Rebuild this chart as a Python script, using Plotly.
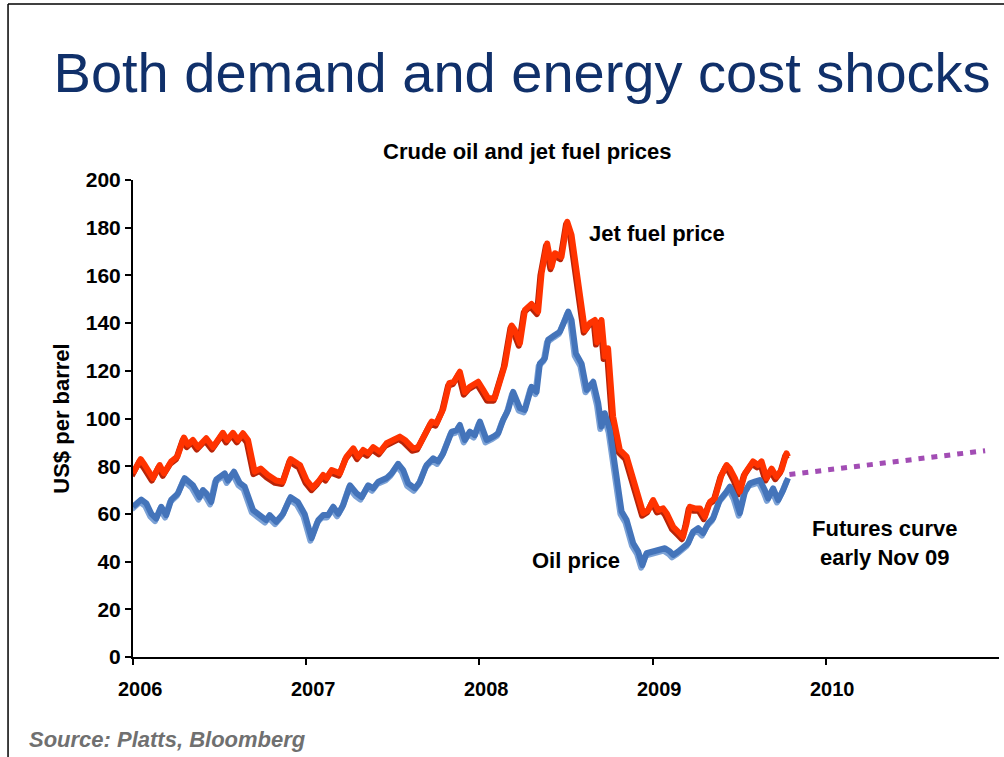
import plotly.graph_objects as go

# weekly-ish prices, time as decimal years
jet_t = [2006.000, 2006.044, 2006.068, 2006.115, 2006.154, 2006.179, 2006.221, 2006.256, 2006.294, 2006.317,
         2006.346, 2006.375, 2006.423, 2006.462, 2006.519, 2006.544, 2006.577, 2006.606, 2006.635, 2006.664,
         2006.702, 2006.737, 2006.779, 2006.827, 2006.866, 2006.910, 2006.952, 2006.964, 2007.003, 2007.037,
         2007.070, 2007.098, 2007.118, 2007.147, 2007.195, 2007.233, 2007.272, 2007.300, 2007.329, 2007.358,
         2007.387, 2007.426, 2007.464, 2007.512, 2007.541, 2007.570, 2007.618, 2007.647, 2007.695, 2007.724,
         2007.753, 2007.791, 2007.826, 2007.853, 2007.887, 2007.916, 2007.945, 2007.993, 2008.022, 2008.051,
         2008.089, 2008.118, 2008.147, 2008.186, 2008.205, 2008.234, 2008.263, 2008.301, 2008.339, 2008.359,
         2008.391, 2008.417, 2008.436, 2008.474, 2008.507, 2008.532, 2008.580, 2008.609, 2008.638, 2008.667,
         2008.680, 2008.705, 2008.724, 2008.743, 2008.772, 2008.811, 2008.850, 2008.898, 2008.946, 2008.975,
         2009.003, 2009.032, 2009.061, 2009.081, 2009.119, 2009.148, 2009.176, 2009.196, 2009.215, 2009.244,
         2009.273, 2009.302, 2009.331, 2009.359, 2009.398, 2009.427, 2009.446, 2009.475, 2009.504, 2009.533,
         2009.562, 2009.580, 2009.609, 2009.629, 2009.658, 2009.687, 2009.715, 2009.744, 2009.773, 2009.782]
jet_price = [77, 83, 80.5, 75, 80.5, 77, 82, 84, 92, 89,
             91, 88, 91.7, 88, 94, 91, 94, 91, 93.8, 91,
             77.7, 79, 76.3, 74, 73.5, 83, 81, 80.5, 74, 71,
             73.5, 76.3, 75, 78.4, 77, 84, 87.5, 84, 86.8, 85.4,
             88, 86, 89.6, 91.7, 92.4, 91, 87.5, 88, 95, 98.7,
             98, 104, 114.8, 115.4, 119.6, 111, 113.3, 115.4, 112, 108.5,
             108.5, 116, 122.4, 139, 137, 131.5, 145.5, 148, 144.8, 160.9,
             173.4, 163.6, 169.3, 167.8, 182.5, 177, 154, 137, 140, 141.3,
             132, 141.3, 126, 129.4, 100.8, 86.8, 84, 72.8, 60.3, 61.6,
             65.8, 61.6, 62.3, 60.3, 54.6, 52.5, 50.4, 56, 63, 62.3,
             62.3, 58.8, 65, 66.5, 76.3, 80.5, 79, 75, 69.3, 77,
             80.5, 82, 80.5, 82, 75, 79, 75.6, 78.4, 85.4, 84]

oil_t = [2006.000, 2006.048, 2006.077, 2006.106, 2006.134, 2006.163, 2006.192, 2006.221, 2006.260, 2006.298,
         2006.346, 2006.385, 2006.404, 2006.423, 2006.452, 2006.481, 2006.529, 2006.548, 2006.583, 2006.616,
         2006.645, 2006.693, 2006.731, 2006.769, 2006.789, 2006.827, 2006.866, 2006.910, 2006.952, 2006.991,
         2007.031, 2007.070, 2007.098, 2007.127, 2007.156, 2007.185, 2007.214, 2007.253, 2007.291, 2007.320,
         2007.358, 2007.387, 2007.416, 2007.464, 2007.493, 2007.531, 2007.560, 2007.589, 2007.628, 2007.657,
         2007.695, 2007.733, 2007.762, 2007.791, 2007.840, 2007.868, 2007.887, 2007.916, 2007.945, 2007.974,
         2008.003, 2008.042, 2008.080, 2008.109, 2008.137, 2008.166, 2008.195, 2008.234, 2008.263, 2008.301,
         2008.330, 2008.349, 2008.378, 2008.397, 2008.436, 2008.465, 2008.494, 2008.513, 2008.532, 2008.557,
         2008.590, 2008.619, 2008.657, 2008.686, 2008.705, 2008.724, 2008.753, 2008.782, 2008.821, 2008.850,
         2008.888, 2008.917, 2008.941, 2008.965, 2009.003, 2009.042, 2009.071, 2009.100, 2009.119, 2009.148,
         2009.176, 2009.205, 2009.234, 2009.263, 2009.292, 2009.321, 2009.350, 2009.388, 2009.427, 2009.446,
         2009.475, 2009.504, 2009.533, 2009.562, 2009.590, 2009.619, 2009.648, 2009.667, 2009.696, 2009.725,
         2009.754, 2009.782]
oil_price = [63, 66, 64.4, 60, 58, 63, 59.5, 66, 68.6, 75,
             72, 67, 70, 68.6, 65, 74.5, 77, 74, 77.7, 73,
             71.4, 61.6, 59.5, 57.4, 59.5, 56.7, 60, 67, 65, 60,
             49.8, 57.4, 59.5, 59.5, 63, 60, 63.7, 72, 68.6, 67,
             72, 70.7, 73.5, 75, 77, 81, 78.4, 72.8, 70.7, 73.5,
             80.5, 83.3, 82, 85.4, 94.5, 95, 97.3, 91, 94.5, 93,
             98.7, 91, 92.4, 93.8, 99.4, 103.6, 111.2, 104.3, 103.6, 113.3,
             111.2, 123, 125.2, 133, 135, 136.4, 141.3, 144.8, 141.3, 127.3,
             123, 112, 115.4, 106.4, 96.6, 102.2, 95.2, 81.2, 61, 57.4,
             47.7, 44.2, 38.5, 43.5, 44.2, 44.9, 45.6, 44.2, 42.8, 44.2,
             45.6, 47.7, 52.5, 54, 51.9, 56, 58.2, 65.8, 69.3, 71.4,
             67.2, 60.3, 69.3, 72.8, 73.5, 74.2, 70, 66.5, 70.7, 65.8,
             70, 75]

futures_t = [2009.79, 2010.92]
futures_price = [76.5, 86.5]

years = [2006, 2007, 2008, 2009, 2010]

FONT = "Arial, Liberation Sans, sans-serif"

fig = go.Figure()

# shadow copies sit on the base axes, whose range is nudged a pixel or two,
# the real lines go on the visible overlay axes drawn above them
fig.add_trace(go.Scatter(x=jet_t, y=jet_price, mode="lines",
                         line=dict(color="#B82408", width=6), hoverinfo="skip"))
fig.add_trace(go.Scatter(x=oil_t, y=oil_price, mode="lines",
                         line=dict(color="#7CA2D6", width=6), hoverinfo="skip"))

fig.add_trace(go.Scatter(x=oil_t, y=oil_price, mode="lines", name="Oil price", xaxis="x2", yaxis="y2",
                         line=dict(color="#4474BA", width=6)))
fig.add_trace(go.Scatter(x=jet_t, y=jet_price, mode="lines", name="Jet fuel price", xaxis="x2", yaxis="y2",
                         line=dict(color="#FF3300", width=6)))
fig.add_trace(go.Scatter(x=futures_t, y=futures_price, mode="lines", name="Futures", xaxis="x2", yaxis="y2",
                         line=dict(color="#A24DB4", width=5, dash="6px,7px")))

x_range = [2006, 2011]
y_range = [0, 200]
dx = 1.2 / 173.2
dy = 2.4 / 2.385

fig.update_layout(
    width=1004, height=757,
    margin=dict(l=133, r=5, t=180, b=100),
    paper_bgcolor="white", plot_bgcolor="white",
    showlegend=False,
    font=dict(family=FONT, color="black"),
    title=dict(text="Both demand and energy cost shocks", x=0.52, xanchor="center",
               y=0.905, yanchor="middle", yref="container",
               font=dict(family=FONT, size=56, color="#10306A")),
    xaxis=dict(range=[x_range[0] + dx, x_range[1] + dx], visible=False),
    yaxis=dict(range=[y_range[0] + dy, y_range[1] + dy], visible=False),
    xaxis2=dict(range=x_range, overlaying="x", anchor="y2", tickvals=years, showticklabels=False,
                showgrid=False, zeroline=False, showline=True, linecolor="black", linewidth=2,
                ticks="outside", ticklen=6, tickwidth=1.5, tickcolor="black"),
    yaxis2=dict(range=y_range, overlaying="y", anchor="x2", dtick=20, showgrid=False, zeroline=False,
                showline=True, linecolor="black", linewidth=2,
                ticks="outside", ticklen=6, tickwidth=1.5, tickcolor="black",
                tickfont=dict(family=FONT, size=21, color="black", weight="bold"),
                title=dict(text="US$ per barrel", standoff=10,
                           font=dict(family=FONT, size=22, color="black", weight="bold"))),
)

# year labels sit a little right of their ticks in the original
for yr in years:
    fig.add_annotation(text="<b>%d</b>" % yr, x=yr, xref="x2", y=-0.067, yref="paper", xshift=7,
                       showarrow=False, xanchor="center", yanchor="middle",
                       font=dict(family=FONT, size=20))

fig.add_annotation(text="<b>Crude oil and jet fuel prices</b>", xref="paper", yref="paper",
                   x=0.456, y=1.059, showarrow=False, xanchor="center", yanchor="middle",
                   font=dict(family=FONT, size=22))
fig.add_annotation(text="<b>Jet fuel price</b>", x=2008.62, y=177.5, xref="x2", yref="y2", showarrow=False,
                   xanchor="left", yanchor="middle", font=dict(family=FONT, size=22))
fig.add_annotation(text="<b>Oil price</b>", x=2008.557, y=40.3, xref="x2", yref="y2", showarrow=False,
                   xanchor="center", yanchor="middle", font=dict(family=FONT, size=22))
fig.add_annotation(text="<b>Futures curve<br>early Nov 09</b>", x=2010.34, y=47.6, xref="x2", yref="y2",
                   showarrow=False, xanchor="center", yanchor="middle", font=dict(family=FONT, size=22))
fig.add_annotation(text="<b><i>Source: Platts, Bloomberg</i></b>", xref="paper", yref="paper",
                   x=-0.1224, y=-0.174, showarrow=False, xanchor="left", yanchor="middle",
                   font=dict(family=FONT, size=22, color="#707070"))

# slide frame (left and top edges visible)
fig.add_shape(type="line", xref="paper", yref="paper", x0=-0.1443, x1=-0.1443, y0=1.369, y1=-0.3,
              line=dict(color="black", width=1.5))
fig.add_shape(type="line", xref="paper", yref="paper", x0=-0.1443, x1=1.2, y0=1.369, y1=1.369,
              line=dict(color="black", width=1.5))

# no body margin so the figure fills the window; round joins like the original's soft line corners
page_js = """
document.body.style.margin = '0';
document.querySelectorAll('.js-line').forEach(function (p) { p.style.strokeLinejoin = 'round'; });
"""
fig.write_html("out.html", config={"displayModeBar": False}, post_script=page_js)
